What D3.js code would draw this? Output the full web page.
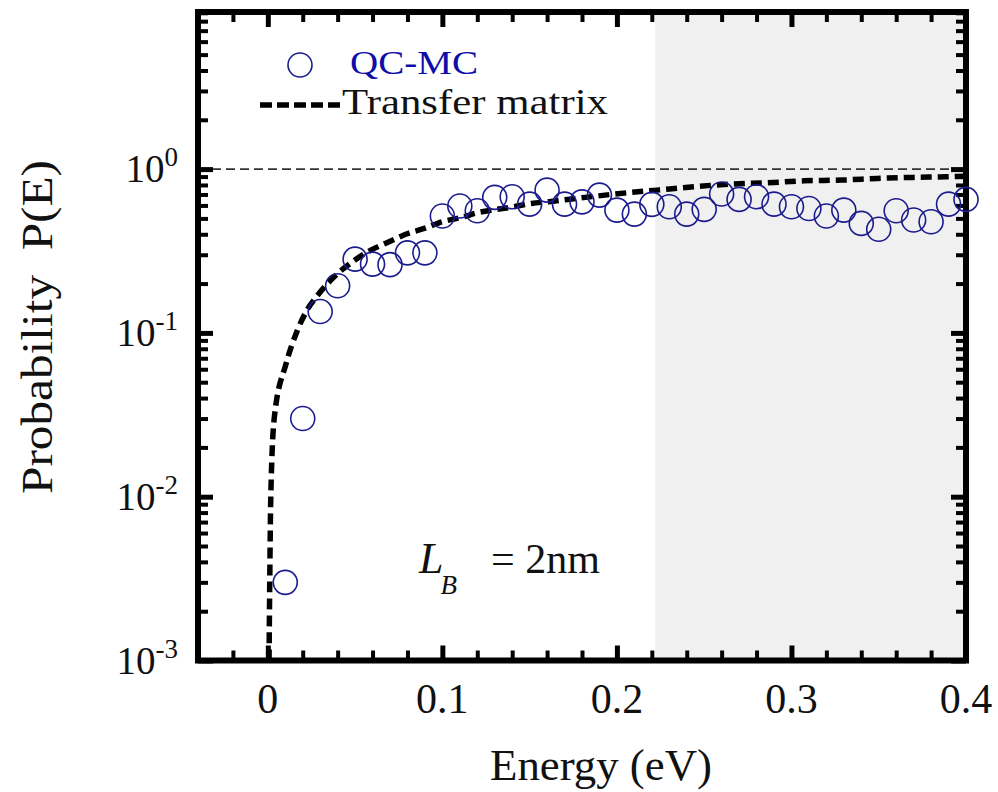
<!DOCTYPE html>
<html>
<head>
<meta charset="utf-8">
<script src="https://cdn.jsdelivr.net/npm/d3@7"></script>
<style>
  body { margin: 0; background: #fff; }
  text { font-family: "Liberation Serif", "Times New Roman", serif; }
</style>
</head>
<body>
<div id="chart"></div>
<script>
const width = 998;
const height = 792;

// QC-MC simulation points
const qcEnergy = [0.01, 0.02, 0.03, 0.04, 0.05, 0.06, 0.07, 0.08, 0.09, 0.10,
                  0.11, 0.12, 0.13, 0.14, 0.15, 0.16, 0.17, 0.18, 0.19, 0.20,
                  0.21, 0.22, 0.23, 0.24, 0.25, 0.26, 0.27, 0.28, 0.29, 0.30,
                  0.31, 0.32, 0.33, 0.34, 0.35, 0.36, 0.37, 0.38, 0.39, 0.40];
const qcProb = [0.0030, 0.030, 0.135, 0.194, 0.282, 0.263, 0.261, 0.308, 0.308, 0.517,
                0.595, 0.557, 0.672, 0.678, 0.611, 0.744, 0.611, 0.631, 0.694, 0.562,
                0.531, 0.609, 0.589, 0.531, 0.568, 0.704, 0.653, 0.678, 0.611, 0.589,
                0.575, 0.517, 0.562, 0.466, 0.429, 0.557, 0.489, 0.477, 0.611, 0.653];

// transfer matrix curve
const tmEnergy = [0.0007, 0.0011, 0.0017, 0.0038, 0.0105, 0.0170, 0.022, 0.029, 0.038, 0.0485,
                  0.059, 0.0695, 0.079, 0.0896, 0.100, 0.111, 0.120, 0.131, 0.141, 0.151,
                  0.161, 0.172, 0.182, 0.202, 0.223, 0.244, 0.265, 0.286, 0.307, 0.329,
                  0.349, 0.370, 0.389, 0.400];
const tmProb = [0.001, 0.003, 0.010, 0.031, 0.065, 0.104, 0.135, 0.172, 0.220, 0.272,
                0.320, 0.360, 0.400, 0.434, 0.477, 0.507, 0.541, 0.567, 0.589, 0.617,
                0.632, 0.653, 0.672, 0.710, 0.744, 0.780, 0.810, 0.825, 0.848, 0.857,
                0.877, 0.890, 0.898, 0.906];

const xMajor = [0, 0.1, 0.2, 0.3, 0.4];
const xMajorLabels = ["0", "0.1", "0.2", "0.3", "0.4"];
const xMinor = [-0.02, 0.02, 0.04, 0.06, 0.08, 0.12, 0.14, 0.16, 0.18,
                0.22, 0.24, 0.26, 0.28, 0.32, 0.34, 0.36, 0.38];
const yMajor = [1e-3, 1e-2, 1e-1, 1];
const yExponents = ["-3", "-2", "-1", "0"];
const shadeFrom = 0.222;

const x = d3.scaleLinear().domain([-0.04, 0.4]).range([198, 966]);
const y = d3.scaleLog().domain([1e-3, 9.1]).range([660.5, 12]);

const yMinor = [];
[-3, -2, -1, 0].forEach(k => d3.range(2, 10).forEach(m => {
    const v = m * Math.pow(10, k);
    if (v < y.domain()[1]) yMinor.push(v);
}));

const svg = d3.create("svg")
    .attr("width", width)
    .attr("height", height)
    .attr("viewBox", [0, 0, width, height]);

const [x0, x1] = x.range();
const [yb, yt] = y.range();

svg.append("defs").append("clipPath")
    .attr("id", "plot-clip")
    .append("rect")
    .attr("x", x0).attr("y", yt)
    .attr("width", x1 - x0).attr("height", yb - yt);

// shaded band
svg.append("rect")
    .attr("x", x(shadeFrom))
    .attr("y", yt)
    .attr("width", x1 - x(shadeFrom))
    .attr("height", yb - yt)
    .attr("fill", "#f0f0f0");

// P = 1 reference
svg.append("line")
    .attr("x1", x0).attr("x2", x1)
    .attr("y1", y(1)).attr("y2", y(1))
    .attr("stroke", "#333")
    .attr("stroke-width", 1.6)
    .attr("stroke-dasharray", "9,5");

// ticks, all pointing inward
function tickAxis(axis, values, size, w, tr) {
    const g = svg.append("g")
        .attr("transform", tr)
        .call(axis.tickValues(values).tickSizeInner(-size).tickSizeOuter(0).tickFormat(""));
    g.select(".domain").remove();
    g.selectAll(".tick line").attr("stroke", "#000").attr("stroke-width", w);
    return g;
}
tickAxis(d3.axisBottom(x), xMajor, 15, 5, `translate(0,${yb})`);
tickAxis(d3.axisBottom(x), xMinor, 10, 4, `translate(0,${yb})`);
tickAxis(d3.axisTop(x), xMajor, 15, 5, `translate(0,${yt})`);
tickAxis(d3.axisTop(x), xMinor, 10, 4, `translate(0,${yt})`);
tickAxis(d3.axisLeft(y), yMajor, 15, 5, `translate(${x0},0)`);
tickAxis(d3.axisLeft(y), yMinor, 10, 4, `translate(${x0},0)`);
tickAxis(d3.axisRight(y), yMajor, 15, 5, `translate(${x1},0)`);
tickAxis(d3.axisRight(y), yMinor, 10, 4, `translate(${x1},0)`);

// frame
svg.append("rect")
    .attr("x", x0).attr("y", yt)
    .attr("width", x1 - x0).attr("height", yb - yt)
    .attr("fill", "none")
    .attr("stroke", "#000")
    .attr("stroke-width", 6);

// x tick labels
svg.append("g")
    .selectAll("text")
    .data(xMajor)
    .join("text")
    .attr("x", d => x(d))
    .attr("y", 713)
    .attr("text-anchor", "middle")
    .attr("font-size", 42)
    .attr("fill", "#111")
    .text((d, i) => xMajorLabels[i]);

// y tick labels 10^n
const yl = svg.append("g")
    .selectAll("text")
    .data(yMajor)
    .join("text")
    .attr("x", 178)
    .attr("y", d => y(d) + 13)
    .attr("text-anchor", "end")
    .attr("fill", "#111");
yl.append("tspan").attr("font-size", 39).text("10");
yl.append("tspan").attr("font-size", 27).attr("dy", -16).text((d, i) => yExponents[i]);

// axis titles
svg.append("text")
    .attr("x", 601)
    .attr("y", 780)
    .attr("text-anchor", "middle")
    .attr("font-size", 44)
    .attr("fill", "#111")
    .attr("textLength", 222)
    .attr("lengthAdjust", "spacingAndGlyphs")
    .text("Energy (eV)");

svg.append("text")
    .attr("transform", "translate(52,327) rotate(-90)")
    .attr("text-anchor", "middle")
    .attr("font-size", 44)
    .attr("fill", "#111")
    .attr("textLength", 334)
    .attr("lengthAdjust", "spacingAndGlyphs")
    .style("white-space", "pre")
    .text("Probability  P(E)");

// transfer matrix curve
const line = d3.line()
    .x((d, i) => x(tmEnergy[i]))
    .y((d, i) => y(tmProb[i]))
    .curve(d3.curveMonotoneX);

svg.append("path")
    .datum(tmEnergy)
    .attr("clip-path", "url(#plot-clip)")
    .attr("d", line)
    .attr("fill", "none")
    .attr("stroke", "#000")
    .attr("stroke-width", 5.5)
    .attr("stroke-dasharray", "11,6");

// QC-MC circles
svg.append("g")
    .selectAll("circle")
    .data(qcEnergy)
    .join("circle")
    .attr("cx", d => x(d))
    .attr("cy", (d, i) => y(qcProb[i]))
    .attr("r", 12)
    .attr("fill", "none")
    .attr("stroke", "#1c1c8e")
    .attr("stroke-width", 1.6);

// legend
svg.append("circle")
    .attr("cx", 300).attr("cy", 65).attr("r", 12)
    .attr("fill", "none")
    .attr("stroke", "#1c1c8e")
    .attr("stroke-width", 1.6);
svg.append("text")
    .attr("x", 350).attr("y", 74)
    .attr("font-size", 33)
    .attr("fill", "#0d0da8")
    .attr("textLength", 128)
    .attr("lengthAdjust", "spacingAndGlyphs")
    .text("QC-MC");
svg.append("line")
    .attr("x1", 260).attr("x2", 343)
    .attr("y1", 105).attr("y2", 105)
    .attr("stroke", "#000")
    .attr("stroke-width", 5.5)
    .attr("stroke-dasharray", "12,5");
svg.append("text")
    .attr("x", 342).attr("y", 114)
    .attr("font-size", 36)
    .attr("fill", "#111")
    .attr("textLength", 266)
    .attr("lengthAdjust", "spacingAndGlyphs")
    .text("Transfer matrix");

// barrier length note
const lb = svg.append("text")
    .attr("x", 419).attr("y", 573)
    .attr("font-size", 44)
    .attr("fill", "#111");
lb.append("tspan").attr("font-style", "italic").text("L");
lb.append("tspan").attr("font-style", "italic").attr("font-size", 27).attr("dx", -3).attr("dy", 21).text("B");
lb.append("tspan").attr("x", 491).attr("dy", -21).attr("font-size", 42).text("= 2nm");

document.getElementById("chart").appendChild(svg.node());
</script>
</body>
</html>
